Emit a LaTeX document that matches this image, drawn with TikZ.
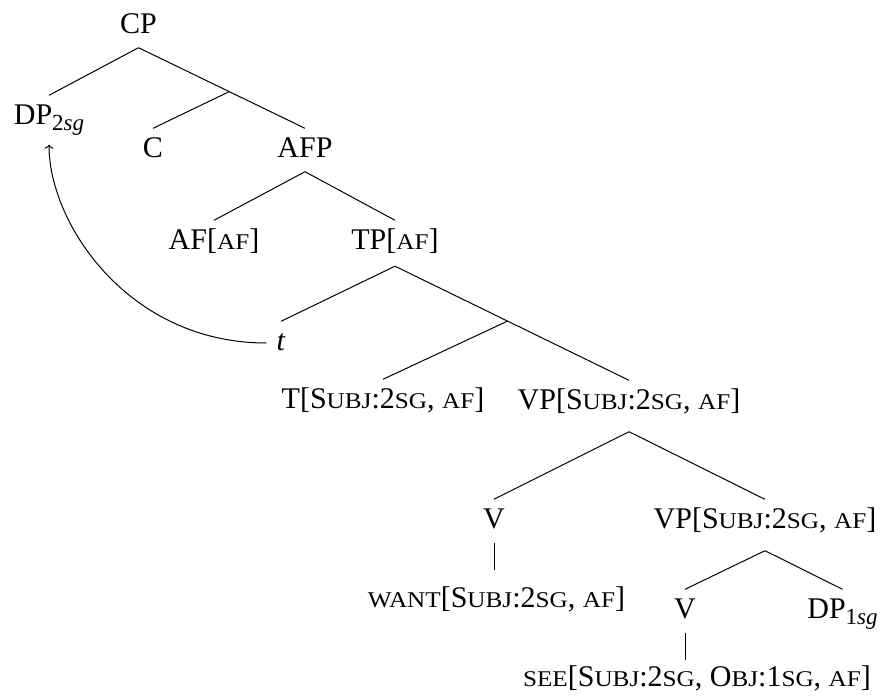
\documentclass[tikz,border=0pt]{standalone}
\usepackage{fontspec}
\setmainfont{Liberation Serif}
\newfontfamily\scf[Scale=0.75,FakeStretch=1.12]{Liberation Serif}
\newcommand{\sm}[1]{{\scf #1}}
\newcommand{\subx}[1]{\raisebox{-6pt}{\fontsize{23}{23}\selectfont #1}}
\usetikzlibrary{calc,arrows.meta}
\begin{document}
\begin{tikzpicture}[x=1pt,y=-1pt,
  lbl/.style={anchor=base, inner xsep=0pt, inner ysep=8.5pt, text height=20pt, text depth=6pt, font=\fontsize{30}{36}\selectfont},
  edge/.style={line width=1pt},
  ]
\useasboundingbox (0,0) rectangle (881,696);
% nodes
\node[lbl] (cp) at (138.5,33) {CP};
\node[lbl] (dp) at (49,124) {DP\subx{2\textit{sg}}};
\node[lbl] (c) at (153,157) {C};
\node[lbl] (afp) at (305,157) {AFP};
\node[lbl] (af) at (214,249) {AF[\sm{AF}]};
\node[lbl, text depth=8.5pt] (tp) at (395,249) {TP[\sm{AF}]};
\node[lbl] (t) at (281,350) {\textit{t}};
\node[lbl] (tt) at (383,408) {T[S\sm{UBJ}:2\sm{SG}, \sm{AF}]};
\node[lbl, text depth=14pt] (vp) at (629,409) {VP[S\sm{UBJ}:2\sm{SG}, \sm{AF}]};
\node[lbl] (v) at (494,528) {V};
\node[lbl, text depth=14pt] (vp2) at (765,528) {VP[S\sm{UBJ}:2\sm{SG}, \sm{AF}]};
\node[lbl, inner ysep=17pt] (want) at (496.5,607) {\sm{WANT}[S\sm{UBJ}:2\sm{SG}, \sm{AF}]};
\node[lbl] (v2) at (685,618) {V};
\node[lbl] (dp1) at (842.5,618) {DP\subx{1\textit{sg}}};
\node[lbl, inner ysep=6pt] (see) at (697,686) {\sm{SEE}[S\sm{UBJ}:2\sm{SG}, O\sm{BJ}:1\sm{SG}, \sm{AF}]};
% branches
\coordinate (cbar) at ($(cp.south)!0.545!(afp.north)$);
\draw[edge] (cp.south) -- (dp.north);
\draw[edge] (cp.south) -- (cbar) -- (afp.north);
\draw[edge] (cbar) -- (c.north);
\draw[edge] (afp.south) -- (af.north);
\draw[edge] (afp.south) -- (tp.north);
\coordinate (tbar) at ($(tp.south)!0.481!(vp.north)$);
\draw[edge] (tp.south) -- (t.north);
\draw[edge] (tp.south) -- (tbar) -- (vp.north);
\draw[edge] (tbar) -- (tt.north);
\draw[edge] (vp.south) -- (v.north);
\draw[edge] (vp.south) -- (vp2.north);
\draw[edge] (v.south) -- (v.south |- want.north);
\draw[edge] (vp2.south) -- (v2.north);
\draw[edge] (vp2.south) -- (dp1.north);
\draw[edge] (v2.south) -- (v2.south |- see.north);
% movement arrow
\draw[edge, -{To[length=4pt,width=9pt]}, shorten <=10pt, shorten >=6pt]
  (t.west) .. controls +(-148,0) and +(0,85) .. (dp.south);
\end{tikzpicture}
\end{document}
